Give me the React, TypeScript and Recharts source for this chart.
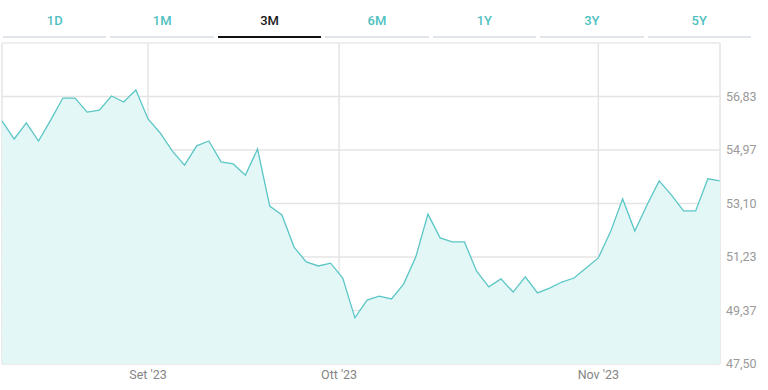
import { AreaChart, Area, XAxis, YAxis, CartesianGrid, ReferenceLine } from "recharts";

const prices = [
  55.98, 55.35, 55.91, 55.28, 56.01, 56.78, 56.78, 56.29, 56.36, 56.85,
  56.64, 57.06, 56.05, 55.56, 54.93, 54.44, 55.11, 55.28, 54.55, 54.48,
  54.09, 55.0, 53.01, 52.7, 51.58, 51.06, 50.92, 51.02, 50.5, 49.11,
  49.73, 49.87, 49.77, 50.29, 51.23, 52.73, 51.9, 51.76, 51.76, 50.74,
  50.19, 50.47, 50.01, 50.54, 49.98, 50.15, 50.36, 50.5, 50.85, 51.2,
  52.11, 53.26, 52.14, 53.05, 53.89, 53.4, 52.84, 52.84, 53.96, 53.89,
];

const monthTicks = [12, 27.7, 49];
const monthLabels = ["Set '23", "Ott '23", "Nov '23"];

const priceTicks = [47.5, 49.3667, 51.2333, 53.1, 54.9667, 56.8333];
const priceMin = 47.5;
const priceMax = 58.7;

const ranges = ["1D", "1M", "3M", "6M", "1Y", "3Y", "5Y"];
const activeRange = "3M";

const data = prices.map((p, i) => ({ i, price: p }));

const font = "Roboto, 'Noto Sans', sans-serif";

const RangeTabs = () => (
  <div style={{ position: "absolute", left: 3, top: 0, width: 748, display: "flex", gap: 4 }}>
    {ranges.map((r) => {
      const on = r === activeRange;
      return (
        <div
          key={r}
          style={{
            flex: 1,
            height: 38,
            boxSizing: "border-box",
            display: "flex",
            alignItems: "center",
            justifyContent: "center",
            paddingTop: 4,
            fontFamily: font,
            fontSize: 13,
            fontWeight: 500,
            color: on ? "#1a1a1a" : "#4fbfbf",
            borderBottom: on ? "2px solid #111" : "2px solid #dfe5ea",
          }}
        >
          {r}
        </div>
      );
    })}
  </div>
);

export default function App() {
  return (
    <div style={{ position: "absolute", left: 0, top: 0, width: 768, height: 390, background: "#fff" }}>
      <AreaChart
        width={768}
        height={390}
        data={data}
        margin={{ top: 43, right: 0, bottom: 0, left: 2 }}
      >
        <CartesianGrid stroke="#e4e4e4" strokeWidth={1.5} />
        <ReferenceLine y={priceMax} stroke="#efefef" strokeWidth={1.5} />
        <ReferenceLine x={0} stroke="#e8e8e8" strokeDasharray="1 2" />
        <ReferenceLine x={59} stroke="#e8e8e8" strokeDasharray="1 2" />
        <XAxis
          dataKey="i"
          type="number"
          domain={[0, 59]}
          ticks={monthTicks}
          tickFormatter={(v: number) => monthLabels[monthTicks.indexOf(v)] ?? ""}
          axisLine={false}
          tickLine={false}
          tickSize={0}
          tickMargin={6}
          height={26}
          interval={0}
          tick={{ fill: "#858585", fontSize: 12.5, fontFamily: font }}
        />
        <YAxis
          orientation="right"
          type="number"
          domain={[priceMin, priceMax]}
          ticks={priceTicks}
          tickFormatter={(v: number) => v.toFixed(2).replace(".", ",")}
          axisLine={false}
          tickLine={false}
          tickSize={0}
          tickMargin={6}
          width={48}
          interval={0}
          allowDataOverflow
          tick={{ fill: "#9a9a9a", fontSize: 12.5, fontFamily: font }}
        />
        <Area
          type="linear"
          dataKey="price"
          stroke="#5cc6c6"
          strokeWidth={1.3}
          fill="#e3f7f7"
          fillOpacity={1}
          baseValue={priceMin}
          dot={false}
          activeDot={false}
          isAnimationActive={false}
        />
      </AreaChart>
      <RangeTabs />
    </div>
  );
}
